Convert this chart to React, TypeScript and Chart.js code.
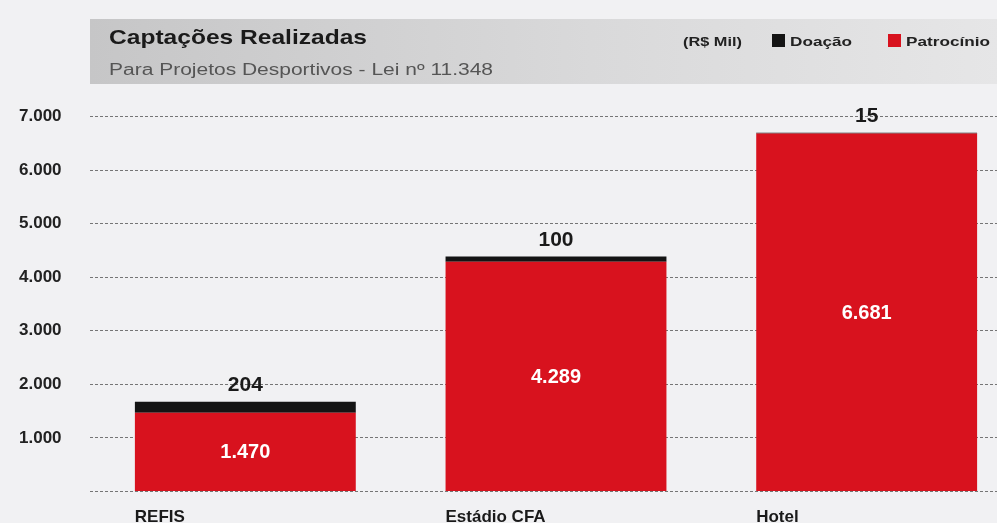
import { useEffect, useRef } from 'react';
import { Chart, registerables } from 'chart.js';

Chart.register(...registerables);

// ---- data ----
const categories = ['REFIS', 'Estádio CFA', 'Hotel'];
const patrocinio = [1470, 4289, 6681];
const doacao = [204, 100, 15];
const seriesNames = ['Patrocínio', 'Doação'];
const yMin = 0;
const yMax = 7000;
const yStep = 1000;
const titleText = 'Captações Realizadas';
const subtitleText = 'Para Projetos Desportivos - Lei nº 11.348';
const unitText = '(R$ Mil)';

// ---- style ----
const RED = '#d8121e';
const BLACK = '#141414';
const FONT = '"Liberation Sans", Arial, sans-serif';

const fmt = (n: number) => String(n).replace(/\B(?=(\d{3})+(?!\d))/g, '.');

function drawStretched(ctx: CanvasRenderingContext2D, text: string, x: number, y: number, font: string, color: string, targetWidth: number) {
  ctx.save();
  ctx.font = font;
  const w = ctx.measureText(text).width;
  ctx.translate(x, y);
  ctx.scale(targetWidth / w, 1);
  ctx.fillStyle = color;
  ctx.textAlign = 'left';
  ctx.textBaseline = 'alphabetic';
  ctx.fillText(text, 0, 0);
  ctx.restore();
}

const headerPlugin = {
  id: 'header',
  beforeDraw(chart: any) {
    const ctx: CanvasRenderingContext2D = chart.ctx;
    ctx.save();
    ctx.fillStyle = '#f1f1f3';
    ctx.fillRect(0, 0, chart.width, chart.height);
    const g = ctx.createLinearGradient(90, 0, 1000, 0);
    g.addColorStop(0, '#c6c6c7');
    g.addColorStop(0.55, '#d9d9da');
    g.addColorStop(1, '#e6e6e7');
    ctx.fillStyle = g;
    ctx.fillRect(90, 19, chart.width - 90, 65);
    ctx.restore();

    drawStretched(ctx, titleText, 109, 43.5, `bold 21px ${FONT}`, '#1a1a1a', 258);
    drawStretched(ctx, subtitleText, 109, 75, `16px ${FONT}`, '#555555', 384);

    drawStretched(ctx, unitText, 683, 45.5, `bold 13px ${FONT}`, '#222222', 59);
    ctx.save();
    ctx.fillStyle = BLACK;
    ctx.fillRect(772, 34, 13, 13);
    ctx.fillStyle = RED;
    ctx.fillRect(888, 34, 13, 13);
    ctx.restore();
    drawStretched(ctx, seriesNames[1], 790, 45.5, `bold 13px ${FONT}`, '#222222', 62);
    drawStretched(ctx, seriesNames[0], 906, 45.5, `bold 13px ${FONT}`, '#222222', 84);
  },
};

const valuePlugin = {
  id: 'values',
  afterDatasetsDraw(chart: any) {
    const ctx: CanvasRenderingContext2D = chart.ctx;
    ctx.save();
    ctx.textAlign = 'center';
    ctx.textBaseline = 'middle';
    const m0 = chart.getDatasetMeta(0);
    ctx.font = `bold 20px ${FONT}`;
    ctx.fillStyle = '#ffffff';
    m0.data.forEach((el: any, i: number) => {
      ctx.fillText(fmt(patrocinio[i]), el.x, (el.y + el.base) / 2 + 1);
    });
    const m1 = chart.getDatasetMeta(1);
    ctx.font = `bold 21px ${FONT}`;
    ctx.fillStyle = '#1a1a1a';
    m1.data.forEach((el: any, i: number) => {
      ctx.fillText(fmt(doacao[i]), el.x, el.y - 16.5);
    });
    ctx.restore();
  },
};

export default function App() {
  const ref = useRef<HTMLCanvasElement>(null);
  useEffect(() => {
    if (!ref.current) return;
    const chart = new Chart(ref.current, {
      type: 'bar',
      data: {
        labels: categories,
        datasets: [
          { label: seriesNames[0], data: patrocinio, backgroundColor: RED, borderWidth: 0 },
          { label: seriesNames[1], data: doacao, backgroundColor: BLACK, borderWidth: 0 },
        ],
      },
      options: {
        animation: false,
        responsive: false,
        devicePixelRatio: 1,
        layout: { padding: { top: 116.5, left: 19, right: 0, bottom: 0 } },
        datasets: { bar: { categoryPercentage: 1, barPercentage: 0.711 } },
        plugins: { legend: { display: false }, tooltip: { enabled: false }, title: { display: false } },
        scales: {
          x: {
            stacked: true,
            grid: { display: false },
            border: { display: false },
            ticks: {
              align: 'start',
              labelOffset: -110.5,
              padding: 8,
              maxRotation: 0,
              autoSkip: false,
              color: '#1a1a1a',
              font: { family: FONT, size: 17, weight: 'bold' },
            },
            afterFit: (s: any) => { s.height = 31.5; },
          },
          y: {
            stacked: true,
            min: yMin,
            max: yMax,
            grid: { color: '#757575', lineWidth: 1, drawTicks: false },
            border: { display: false, dash: [3, 2] },
            ticks: {
              stepSize: yStep,
              padding: 0,
              crossAlign: 'far',
              color: '#222222',
              font: { family: FONT, size: 17, weight: 'bold' },
              callback: (v: any) => (v === 0 ? '' : fmt(Number(v))),
            },
            afterFit: (s: any) => { s.width = 71; },
          },
        },
      } as any,
      plugins: [headerPlugin, valuePlugin],
    });
    return () => chart.destroy();
  }, []);
  return (
    <div style={{ position: 'fixed', left: 0, top: 0, width: 997, height: 523, overflow: 'hidden', background: '#f1f1f3' }}>
      <canvas ref={ref} width={1022} height={523} style={{ display: 'block' }} />
    </div>
  );
}
